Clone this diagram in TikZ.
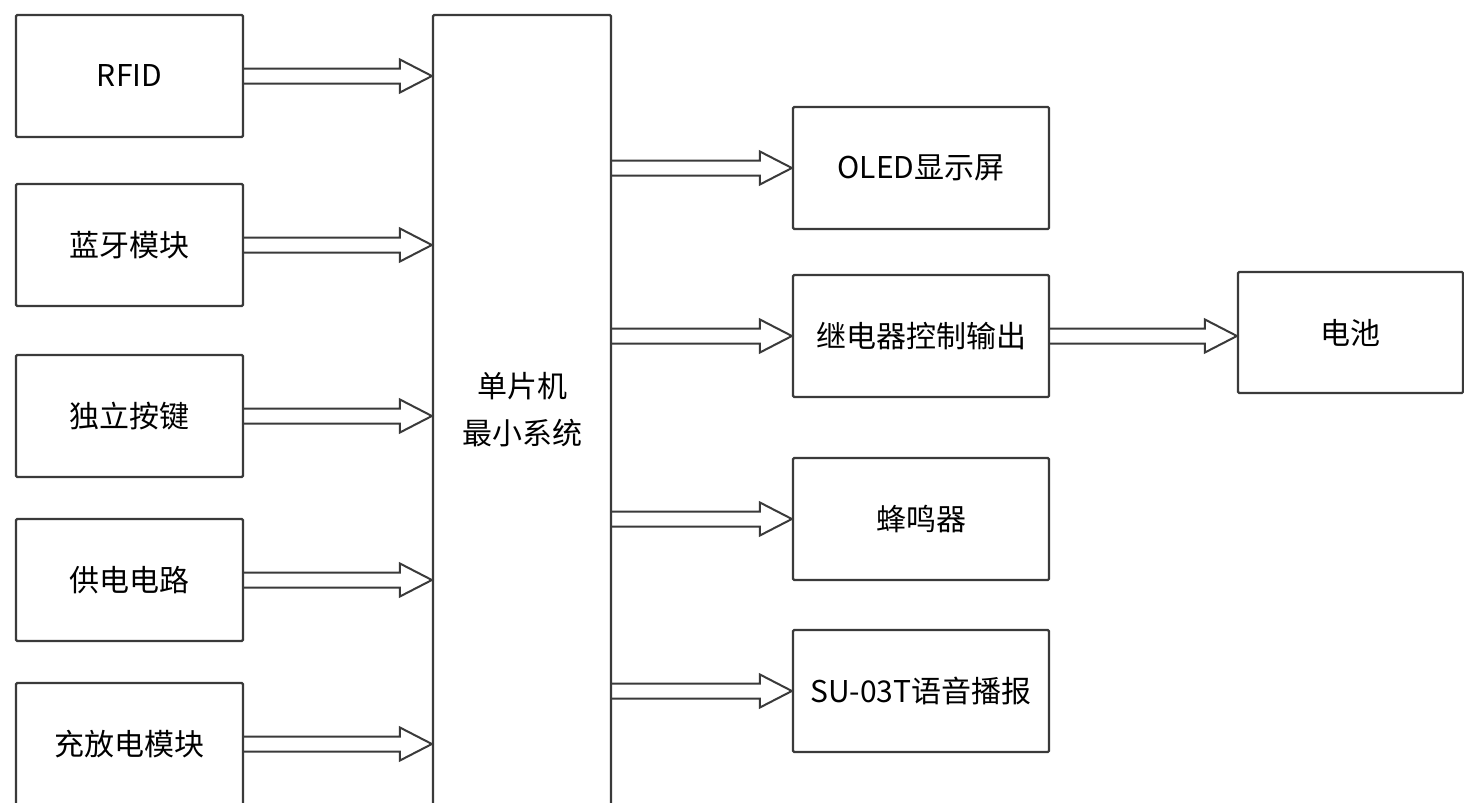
\documentclass[tikz,border=0pt]{standalone}
\usepackage{fontspec}
\setmainfont{Noto Sans CJK SC}
\usetikzlibrary{calc}
\definecolor{linec}{HTML}{3A3A3A}
\newcommand\hollowarrow[2]{%
  \draw[hollow] ($(#1)+(0,-7.5)$) -- ($(#2)+(-32,-7.5)$) -- ($(#2)+(-32,-16.5)$) -- (#2)
    -- ($(#2)+(-32,16.5)$) -- ($(#2)+(-32,7.5)$) -- ($(#1)+(0,7.5)$);}
\begin{document}
\begin{tikzpicture}[x=0.5pt,y=-0.5pt,
  box/.style={draw=linec, line width=1.1pt, rounded corners=0.6pt, inner sep=0pt,
    font=\fontsize{15pt}{23.5pt}\selectfont, align=center, text=black},
  lbox/.style={box, minimum width=113.5pt, minimum height=61pt},
  rbox/.style={box, minimum width=128pt, minimum height=61pt},
  hollow/.style={draw=linec, line width=1pt, line join=miter}]
\useasboundingbox[fill=white] (0,0) rectangle (1464,803);
% left column
\node[lbox] (rfid) at (129.5,76) {RFID};
\node[lbox] (bt)   at (129.5,245) {蓝牙模块};
\node[lbox] (key)  at (129.5,416) {独立按键};
\node[lbox] (pwr)  at (129.5,580) {供电电路};
\node[lbox] (chg)  at (129.5,744) {充放电模块};
% MCU
\node[box, minimum width=89pt, minimum height=395pt] (mcu) at (522,410) {单片机\\最小系统};
% right column
\node[rbox] (oled)  at (921,168) {OLED显示屏};
\node[rbox] (relay) at (921,336) {继电器控制输出};
\node[rbox] (buzz)  at (921,519) {蜂鸣器};
\node[rbox] (voice) at (921,691) {SU-03T语音播报};
\node[box, minimum width=112.5pt, minimum height=60.5pt] (bat) at (1350.5,332.5) {电池};
% arrow end points
\foreach \s in {rfid,bt,key,pwr,chg}{\coordinate (t-\s) at (mcu.west |- \s.east);}
\foreach \d in {oled,relay,buzz,voice}{\coordinate (f-\d) at (mcu.east |- \d.west);}
\coordinate (t-bat) at (bat.west |- relay.east);
% arrows
\hollowarrow{rfid.east}{t-rfid}
\hollowarrow{bt.east}{t-bt}
\hollowarrow{key.east}{t-key}
\hollowarrow{pwr.east}{t-pwr}
\hollowarrow{chg.east}{t-chg}
\hollowarrow{f-oled}{oled.west}
\hollowarrow{f-relay}{relay.west}
\hollowarrow{f-buzz}{buzz.west}
\hollowarrow{f-voice}{voice.west}
\hollowarrow{relay.east}{t-bat}
\end{tikzpicture}
\end{document}
